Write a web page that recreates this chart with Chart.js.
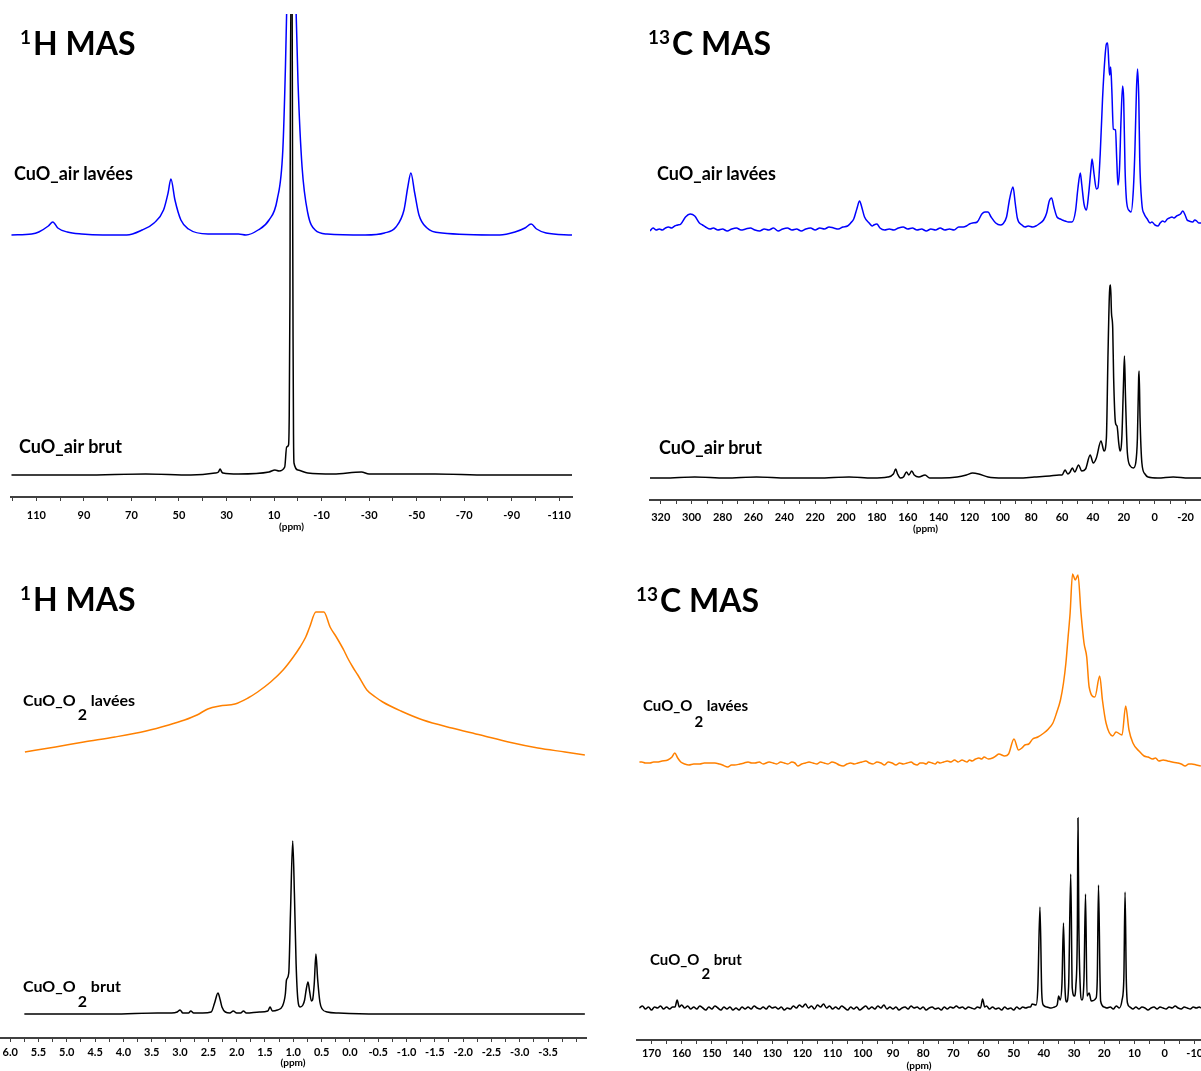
<!DOCTYPE html>
<html>
<head>
<meta charset="utf-8">
<script src="https://cdn.jsdelivr.net/npm/chart.js@4.4.0/dist/chart.umd.min.js"></script>
<style>
  body { margin: 0; width: 1201px; height: 1071px; overflow: hidden; position: relative; background: #fff; font-family: Lato, "Open Sans", sans-serif; }
  canvas { position: absolute; }
  .lbl { position: absolute; font-weight: bold; line-height: 1; white-space: nowrap; color: #000; }
  .title { font-size: 32px; }
  .title .sup { font-size: 19px; position: relative; top: -11px; margin-right: 2px; }
  .sample { font-size: 18px; }
  .o2 { font-size: 16px; }
  .o2 .sub { position: relative; margin-left: 2px; }
</style>
</head>
<body>
<canvas id="h1Air" width="600" height="535" style="left:0px;top:0px"></canvas>
<canvas id="c13Air" width="600" height="540" style="left:620px;top:0px"></canvas>
<canvas id="h1O2" width="614" height="520" style="left:-14px;top:555px"></canvas>
<canvas id="c13O2" width="600" height="520" style="left:620px;top:555px"></canvas>

<div class="lbl title" style="left:20px;top:27px"><span class="sup">1</span>H MAS</div>
<div class="lbl title" style="left:648px;top:27px"><span class="sup">13</span>C MAS</div>
<div class="lbl title" style="left:20px;top:583px"><span class="sup">1</span>H MAS</div>
<div class="lbl title" style="left:636px;top:584px"><span class="sup">13</span>C MAS</div>

<div class="lbl sample" style="left:14px;top:164px">CuO_air lavées</div>
<div class="lbl sample" style="left:19px;top:437px">CuO_air brut</div>
<div class="lbl sample" style="left:657px;top:164px">CuO_air lavées</div>
<div class="lbl sample" style="left:659px;top:438px">CuO_air brut</div>

<div class="lbl o2" style="left:23px;top:692px">CuO_O<span class="sub" style="top:14px">2</span> lavées</div>
<div class="lbl o2" style="left:23px;top:978px">CuO_O<span class="sub" style="top:15px">2</span> brut</div>
<div class="lbl o2" style="left:643px;top:698px;font-size:15px">CuO_O<span class="sub" style="top:16px">2</span> lavées</div>
<div class="lbl o2" style="left:650px;top:952px;font-size:15px">CuO_O<span class="sub" style="top:14px">2</span> brut</div>

<script>
// tick labels (ppm)
const h1AirTicks = [110, 90, 70, 50, 30, 10, -10, -30, -50, -70, -90, -110];
const c13AirTicks = [320, 300, 280, 260, 240, 220, 200, 180, 160, 140, 120, 100, 80, 60, 40, 20, 0, -20];
const h1O2Ticks = [6.0, 5.5, 5.0, 4.5, 4.0, 3.5, 3.0, 2.5, 2.0, 1.5, 1.0, 0.5, 0.0, -0.5, -1.0, -1.5, -2.0, -2.5, -3.0, -3.5];
const c13O2Ticks = [170, 160, 150, 140, 130, 120, 110, 100, 90, 80, 70, 60, 50, 40, 30, 20, 10, 0, -10];

// spectra: [ppm, intensity above own baseline]
const h1AirLavees = [
  [120.5,0],[112,1],[109,3],[105,9],[103.1,13],[101,7],[97,3],[91,1],[82,0],[72,0],[65.5,5],[60.5,12],
  [56.5,25],[54.6,42],[53.4,56],[51.7,35],[49.2,15],[46,6],[37.8,1],[25,1],[21.8,0],[16.7,5],[12.1,15],
  [8.7,35],[6.3,85],[5.2,168],[4.7,222],[3.6,330],[2.7,400],[1.6,330],[0.7,222],[-0.1,152],[-1.8,68],
  [-4.2,22],[-7.3,5],[-12.3,1],[-28.3,0],[-36.5,2],[-41.3,8],[-44.7,25],[-46.3,48],[-47.6,62],[-49.2,42],
  [-51,20],[-54.4,7],[-60.7,2],[-85,0],[-91.4,3],[-95.6,7],[-98.2,11],[-100.5,6],[-104.5,2],[-115.4,0]
];
const h1AirBrut = [
  [120.5,0],[90,0],[64,1],[45,0],[34.8,2],[33.4,3],[32.7,6],[32,3],[31.5,2],[25,1],[12.1,3],[9.6,5],
  [7.9,4],[5.5,8],[4.7,28],[3.9,30],[3.6,60],[3.3,180],[3.0,480],[2.4,480],[2.2,300],[2.0,138],[1.8,40],
  [1.6,12],[-0.1,5],[-4.2,2],[-15,1],[-26.8,3],[-30,1],[-57.8,1],[-80,0],[-115.4,0]
];
const c13AirLavees = [
  [327,-2],[325,1],[323,-1],[321,0],[319,-1],[317,1],[315,2],[313,1],[311,3],[309,4],[307,5],[304,12],
  [301,15],[298,13],[295,6],[293,4],[291,2],[288,0],[286,1],[283,-1],[280,0],[277,-2],[274,0],[271,1],
  [268,-1],[265,0],[262,1],[259,-1],[256,-2],[253,0],[250,-1],[247,1],[244,-2],[241,0],[238,1],[235,-1],
  [232,0],[229,-2],[226,0],[223,1],[220,-1],[217,1],[214,0],[211,2],[208,1],[205,0],[202,2],[199,3],
  [197,6],[195,10],[193,20],[191.2,28],[190,23],[188,12],[185,6],[183,3],[182,4],[180,5],[178,1],[175,-1],
  [172,0],[169,-1],[166,1],[163,2],[160,0],[157,1],[154,-1],[151,0],[148,-2],[145,0],[142,-1],[139,1],
  [136,-1],[133,0],[130,-1],[127,2],[124,2],[122,3],[120,5],[118,6],[115,7],[112,15],[110,17],[108,17],
  [106,12],[103,6],[100,4],[98.4,5],[96,12],[94,30],[91.8,42],[90.3,25],[89,11],[86,4],[84,2],[82,3],
  [79,2],[77,3],[75,5],[72,9],[70,16],[68.3,28],[66.8,31],[65.3,22],[63.3,12],[61,10],[60,9],[58,8],
  [56,7],[53.6,7],[51.3,18],[49.8,40],[48.2,56],[47.3,45],[45.8,25],[44.2,19],[42.8,35],[41.3,60],
  [40.6,70],[39.3,55],[37.8,40],[36.8,41],[35.3,75],[33.8,130],[32.3,170],[31.3,185],[30.5,186],[29.7,165],
  [29.2,154],[28.5,162],[27.8,140],[26.8,100],[25.4,99],[24.6,70],[23.8,44],[22.8,60],[21.8,110],[20.8,143],
  [20.1,130],[19.2,60],[18.1,26],[16.3,18],[15.3,17],[13.8,40],[12.8,80],[11.8,140],[11.1,160],[10.3,130],
  [9.7,70],[8.3,25],[6.8,15],[4.8,10],[3,6],[1.8,7],[-0.2,4],[-2.2,3],[-3.5,6],[-5.2,8],[-6.5,7],[-8.2,10],
  [-9.5,11],[-11.2,12],[-12.5,11],[-14.2,13],[-16.7,15],[-18.2,18],[-19.7,14],[-21,9],[-22.2,8],[-24.6,7],
  [-26,9],[-27.2,8],[-28.5,6],[-30,6]
];
const c13AirBrut = [
  [327,0],[318,0],[298,1],[278,0],[258,1],[238,0],[218,0],[198,1],[183,0],[173,1],[169.3,4],[167.8,9],
  [166.6,4],[164.8,0],[162.8,1],[160.8,6],[159.3,3],[157.4,7],[155.8,3],[152.8,1],[148.8,3],[145.8,0],
  [138,0],[128,1],[122,3],[118,5],[114,4],[108,1],[98,0],[88,0],[78,1],[68,2],[62,3],[60,3],[58.1,8],
  [56.3,4],[54.8,6],[53.4,10],[51.8,6],[49.3,13],[47.3,7],[44.8,9],[41.8,23],[39.8,15],[37.8,20],[34.8,37],
  [32.8,27],[31.3,40],[30.3,120],[29.3,185],[28.6,193],[28,165],[27.2,150],[26.6,100],[25.4,55],[24.4,52],
  [23.3,35],[22.5,27],[21.3,40],[20.3,90],[19.6,122],[18.9,80],[17.7,25],[15.8,12],[13.8,10],[12.3,15],
  [11.2,40],[10.4,100],[10.1,107],[9.5,60],[8.3,15],[6.3,4],[4.3,1],[-2,0],[-12,1],[-22,0],[-30,0]
];
const h1O2Lavees = [
  [5.74,8],[5.2,13],[4.7,18],[4.15,23],[3.6,29],[3.2,35],[2.92,40],[2.7,45],[2.51,51],[2.3,54],[2.03,56],
  [1.8,62],[1.63,68],[1.4,78],[1.18,90],[1.0,103],[0.88,113],[0.78,123],[0.71,133],[0.6,148],[0.46,148],
  [0.35,133],[0.24,123],[0.1,109],[0.04,102],[-0.05,93],[-0.14,85],[-0.3,70],[-0.45,63],[-0.58,58],
  [-0.9,49],[-1.29,40],[-1.8,32],[-2.31,25],[-2.8,18],[-3.32,12],[-3.8,8],[-4.15,5]
];
const h1O2Brut = [
  [5.75,0],[5,0],[4.2,0],[3.4,1],[3.15,1],[3.05,2],[3.0,4],[2.95,1],[2.85,1],[2.81,3],[2.76,1],[2.6,1],
  [2.45,2],[2.39,11],[2.33,21],[2.29,14],[2.26,7],[2.2,2],[2.12,1],[2.06,3],[2.0,1],[1.93,1],[1.88,3],
  [1.83,1],[1.6,2],[1.45,3],[1.41,7],[1.37,3],[1.28,4],[1.19,8],[1.14,20],[1.12,34],[1.08,41],[1.05,100],
  [1.01,173],[0.98,120],[0.95,50],[0.92,15],[0.88,7],[0.83,9],[0.8,14],[0.77,25],[0.74,32],[0.71,22],
  [0.68,13],[0.66,14],[0.63,30],[0.6,60],[0.57,35],[0.53,12],[0.49,5],[0.4,2],[0.2,1],[-0.5,0],[-2,0],[-4.15,0]
];
const c13O2Lavees = [
  [174,1],[173.2,1],[172,0],[170.5,0],[169.3,1],[168.2,1],[166.5,2],[164.6,3],[163.2,6],[162.3,10],[161.3,5],
  [160.3,1],[159,-1],[157.6,-2],[156,-1],[154,-1],[152.5,0],[151,0],[149,0],[147.5,-1],[146.5,-2],[144.7,-4],
  [143.5,-2],[142.5,-2],[140.7,-1],[139.3,0],[138,1],[136.8,0],[135.7,0],[134.3,1],[133,-1],[131,1],[129.7,0],
  [128.5,-1],[127.2,1],[126,0],[124.8,-1],[123.5,1],[122.5,0],[121.5,-3],[120.2,-1],[119,0],[117.8,1],
  [116.5,0],[115.2,-1],[114,1],[112.8,0],[111.5,-1],[110.2,1],[109,0],[107.8,-2],[106.5,-3],[105.2,-1],
  [104,0],[102.8,-1],[101.6,0],[100.3,1],[99,2],[97.8,0],[96.6,-1],[95.3,1],[94,0],[92.8,-2],[91.6,1],
  [90.3,0],[89,-2],[87.8,0],[86.6,-1],[85.3,0],[84,1],[83,-1],[82,-2],[81,0],[80,0],[79,-1],[78.2,1],
  [77,0],[76,-1],[75.2,1],[74.4,0],[73.2,1],[72,2],[70.8,1],[69.6,3],[68.4,1],[67.1,3],[66.3,2],[65.5,1],
  [64.6,3],[63.8,2],[62.6,4],[61.5,5],[60.6,4],[59.8,6],[58.4,4],[57,5],[55.9,7],[54.9,9],[53,7],[51.7,9],
  [49.9,24],[48.4,13],[47.3,15],[46.3,18],[45,19],[43.7,24],[42,26],[40,30],[38.5,34],[37,40],[35.8,50],
  [34.5,63],[33.5,80],[32.7,100],[32,125],[31.3,150],[30.5,189],[29.6,183],[28.7,188],[27.7,150],[26.7,120],
  [25.8,106],[25,76],[23.1,66],[21.5,87],[20.6,63],[19.4,40],[17.2,27],[16.1,31],[14.1,28],[12.9,57],
  [11.8,33],[10.5,20],[8.5,12],[6.8,7],[5.5,6],[4,4],[3,5],[1.9,2],[0.5,3],[-1,2],[-2.5,1],[-4.3,0],
  [-5.5,-1],[-6.8,-3],[-8,-1],[-9,-1],[-10.5,-2],[-12,-3]
];
const c13O2Brut = [
  [174,0],[173,2],[172,-1],[171,1],[170,-2],[169,1],[168,0],[167,2],[166,-1],[165,1],[164,-1],[163,1],
  [162.2,1],[161.5,8],[160.8,1],[160,3],[159,0],[158,2],[157,-1],[156,1],[155,-1],[154,2],[153,0],[152,-2],
  [151,1],[150,-1],[149,2],[148,0],[147,-2],[146,1],[145,-1],[144,1],[143,-2],[142,0],[141,-2],[140,1],
  [139,-1],[138,1],[137,-1],[136,2],[135,0],[134,-1],[133,1],[132,-1],[131,2],[130,0],[129,1],[128,-1],
  [127,1],[126,-2],[125,0],[124,-1],[123,2],[122,0],[121,3],[120,1],[119,4],[118,0],[117,2],[116,-1],
  [115,3],[114,1],[113,4],[112,0],[111,2],[110,-1],[109,1],[108,-1],[107,2],[106,0],[105,-2],[104,1],
  [103,-1],[102,1],[101,-2],[100,0],[99,2],[98,-1],[97,1],[96,-1],[95,2],[94,0],[93,3],[92,-1],[91,1],
  [90,-1],[89,1],[88,-2],[87,0],[86,1],[85,-1],[84,2],[83,0],[82,1],[81,-1],[80,1],[79,-2],[78,0],[77,1],
  [76,-1],[75,0],[74,-2],[73,1],[72,-1],[71,1],[70,0],[69,2],[68,0],[67,1],[66,-1],[65,1],[64,0],[63,-1],
  [62,1],[61,0],[60.3,9],[59.6,1],[59,2],[58,-1],[57,1],[56,-1],[55,0],[54,-2],[53,1],[52,-1],[51,0],
  [50,-2],[49,1],[48,-1],[47,1],[46,0],[45,1],[44.4,1],[43.9,4],[42.6,3],[42.0,20],[41.3,101],[40.7,15],
  [40.2,3],[39,1],[37.6,0],[36.5,1],[35.6,3],[35.1,12],[34.6,8],[34.0,25],[33.5,85],[33.0,20],[32.5,6],
  [31.8,22],[31.1,134],[30.6,20],[29.9,12],[29.4,22],[28.9,80],[28.7,190],[28.4,80],[28.0,25],[27.4,8],
  [26.7,30],[26.2,114],[25.7,12],[25.0,15],[24.3,7],[22.7,10],[22.3,30],[21.9,123],[21.4,30],[21.2,7],
  [20,1],[19.1,0],[18,1],[17,-1],[16,2],[15,0],[14.1,8],[13.5,30],[13.1,116],[12.7,30],[12.3,5],[11.5,1],
  [10.5,-1],[9.5,1],[8.5,-1],[7.5,1],[6.5,0],[5.5,-2],[4.5,0],[3.5,1],[2.5,-1],[1.5,1],[0.5,0],[-0.5,-1],
  [-1.5,1],[-2.5,0],[-3.5,2],[-4.5,0],[-5.5,-1],[-6.5,1],[-7.5,0],[-8.5,-1],[-9.5,1],[-10.5,0],[-11.5,1],[-12,0]
];

function toXY(pairs) {
  return pairs.map(p => ({ x: p[0], y: p[1] }));
}

function tickText(value, list, dec) {
  const hit = list.find(t => Math.abs(t - value) < 1e-6);
  return hit === undefined ? '' : hit.toFixed(dec);
}

// o.rect: canvas box in page px, o.area: plot box in page px
function makePanel(id, o) {
  const [cl, ct, cw, ch] = o.rect;
  const [x0, y0, x1, y1] = o.area;
  const axisH = ct + ch - y1;
  return new Chart(document.getElementById(id), {
    type: 'line',
    data: {
      datasets: [
        { data: toXY(o.top), yAxisID: 'yTop', borderColor: o.topColor },
        { data: toXY(o.bottom), yAxisID: 'yBot', borderColor: '#000000' },
      ],
    },
    options: {
      responsive: false,
      animation: false,
      devicePixelRatio: 1,
      layout: { padding: { left: x0 - cl, right: cl + cw - x1, top: y0 - ct, bottom: 0 } },
      plugins: { legend: { display: false }, tooltip: { enabled: false } },
      elements: {
        point: { radius: 0 },
        line: { borderWidth: 1.5, cubicInterpolationMode: 'monotone' },
      },
      scales: {
        x: {
          type: 'linear',
          reverse: true,
          min: o.ppm[1],
          max: o.ppm[0],
          afterFit: (s) => { s.height = axisH; },
          border: { display: true, color: '#404040', width: 2 },
          grid: { drawOnChartArea: false, drawTicks: true, tickLength: 4, color: '#404040' },
          ticks: {
            stepSize: o.step,
            includeBounds: false,
            autoSkip: false,
            maxRotation: 0,
            padding: o.labelY - y1 - 4 - 6.6,
            color: '#000',
            font: { family: 'Lato', weight: 'bold', size: 11 },
            callback: (v) => tickText(v, o.labels, o.dec),
          },
          title: {
            display: true,
            text: '(ppm)',
            color: '#000',
            font: { family: 'Lato', weight: 'bold', size: 10 },
            padding: { top: 0, bottom: ct + ch - o.titleY - 6 },
          },
        },
        yTop: { display: false, min: -(y1 - o.topBase), max: o.topBase - y0 },
        yBot: { display: false, min: -(y1 - o.botBase), max: o.botBase - y0 },
      },
    },
  });
}

makePanel('h1Air', {
  rect: [0, 0, 600, 535], area: [11, 14, 572, 497], labelY: 515, titleY: 527,
  ppm: [120.7, -115.4], step: 10, labels: h1AirTicks, dec: 0,
  top: h1AirLavees, topColor: '#0000ff', topBase: 235,
  bottom: h1AirBrut, botBase: 475,
});

makePanel('c13Air', {
  rect: [620, 0, 600, 540], area: [650, 14, 1201, 500], labelY: 517, titleY: 529,
  ppm: [327, -30], step: 10, labels: c13AirTicks, dec: 0,
  top: c13AirLavees, topColor: '#0000ff', topBase: 229,
  bottom: c13AirBrut, botBase: 478,
});

makePanel('h1O2', {
  rect: [-14, 555, 614, 520], area: [0, 560, 586, 1038], labelY: 1052, titleY: 1063,
  ppm: [6.18, -4.17], step: 0.25, labels: h1O2Ticks, dec: 1,
  top: h1O2Lavees, topColor: '#ff8000', topBase: 760,
  bottom: h1O2Brut, botBase: 1014,
});

makePanel('c13O2', {
  rect: [620, 555, 600, 520], area: [637, 560, 1201, 1040], labelY: 1053, titleY: 1066,
  ppm: [174.8, -12.06], step: 5, labels: c13O2Ticks, dec: 0,
  top: c13O2Lavees, topColor: '#ff8000', topBase: 763,
  bottom: c13O2Brut, botBase: 1008,
});
</script>
</body>
</html>
